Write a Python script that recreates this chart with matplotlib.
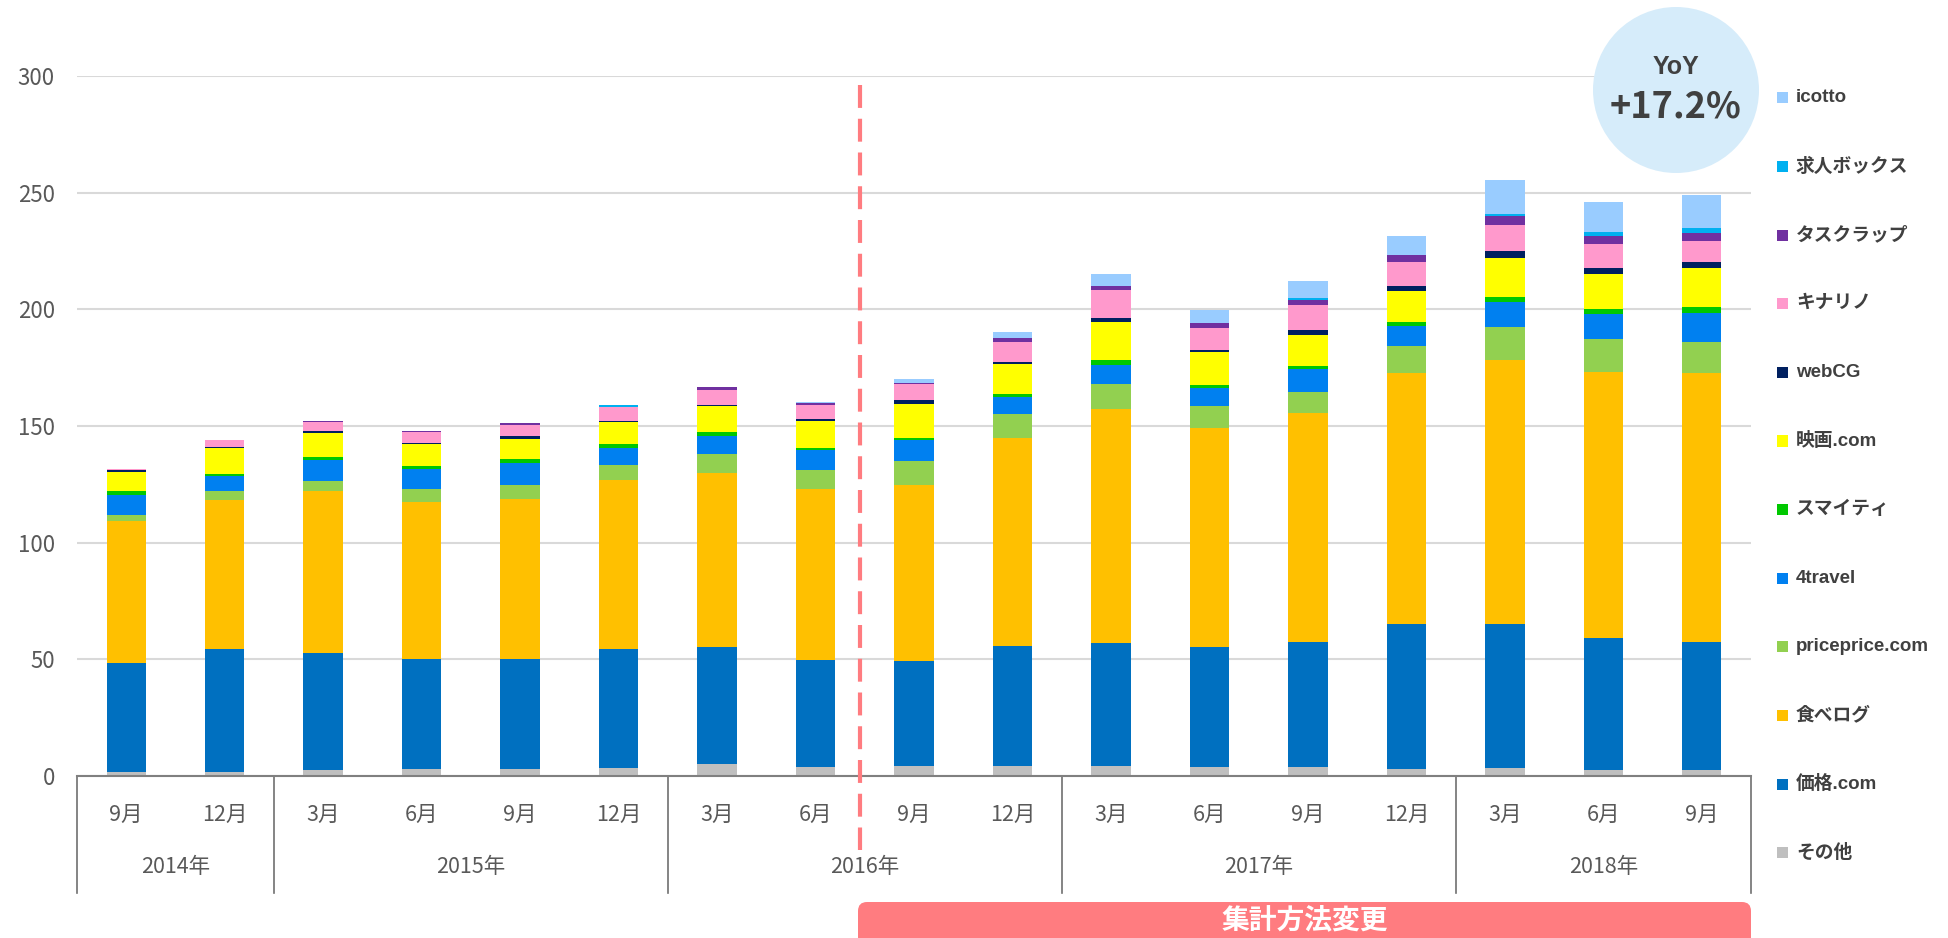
import matplotlib
matplotlib.use("Agg")
import matplotlib.pyplot as plt
from matplotlib.patches import FancyBboxPatch, Circle, Rectangle
import matplotlib.transforms as mtransforms
import numpy as np

# ---------------- data ----------------
months = ["9月", "12月", "3月", "6月", "9月", "12月", "3月", "6月", "9月", "12月",
          "3月", "6月", "9月", "12月", "3月", "6月", "9月"]
years = ["2014年", "2015年", "2016年", "2017年", "2018年"]
year_counts = [2, 4, 4, 4, 3]

series_names = ["その他", "価格.com", "食べログ", "priceprice.com", "4travel", "スマイティ",
                "映画.com", "webCG", "キナリノ", "タスクラップ", "求人ボックス", "icotto"]
series_colors = ["#BFBFBF", "#0070C0", "#FFC000", "#92D050", "#0080F0", "#00C800",
                 "#FFFF00", "#002060", "#FF99CC", "#7030A0", "#00B0F0", "#99CCFF"]

sonota     = [1.7, 1.7, 2.4, 3.0, 3.0, 3.6, 5.1, 3.9, 4.4, 4.4, 4.3, 3.7, 3.7, 3.1, 3.5, 2.6, 2.6]
kakaku     = [46.7, 52.7, 50.5, 47.3, 47.3, 51.0, 50.2, 46.0, 45.0, 51.5, 52.7, 51.5, 53.8, 61.9, 61.7, 56.7, 54.8]
tabelog    = [61.0, 63.7, 69.1, 67.3, 68.4, 72.4, 74.5, 73.0, 75.5, 89.0, 100.4, 93.8, 98.1, 107.7, 113.1, 113.9, 115.3]
priceprice = [2.6, 3.9, 4.4, 5.5, 6.0, 6.4, 8.0, 8.1, 10.0, 10.3, 10.4, 9.4, 8.9, 11.4, 14.1, 14.2, 13.2]
travel4    = [8.4, 6.6, 8.9, 8.5, 9.4, 7.2, 8.1, 8.5, 9.1, 7.1, 8.2, 7.7, 9.8, 8.7, 10.6, 10.5, 12.6]
sumaity    = [1.6, 1.0, 1.6, 1.4, 1.6, 1.7, 1.7, 1.0, 0.9, 1.5, 2.1, 1.6, 1.6, 1.8, 2.2, 2.1, 2.6]
eiga       = [8.1, 11.1, 10.2, 9.3, 8.9, 9.4, 10.8, 11.5, 14.5, 12.9, 16.4, 13.8, 13.1, 13.3, 16.9, 15.1, 16.6]
webcg      = [1.0, 0.4, 0.6, 0.6, 1.0, 0.6, 0.7, 1.0, 1.9, 0.8, 1.7, 1.0, 2.3, 2.2, 2.8, 2.7, 2.7]
kinarino   = [0.6, 2.8, 4.0, 4.4, 5.0, 5.8, 6.4, 6.1, 6.6, 8.3, 12.2, 9.5, 10.4, 10.0, 11.3, 10.1, 8.8]
taskrap    = [0.0, 0.1, 0.6, 0.6, 0.5, 0.2, 1.1, 0.7, 0.7, 1.7, 1.6, 2.2, 2.5, 3.2, 3.6, 3.7, 3.3]
kyujin     = [0.0, 0.0, 0.0, 0.0, 0.0, 0.6, 0.0, 0.0, 0.0, 0.0, 0.0, 0.0, 0.5, 0.0, 1.1, 1.5, 2.3]
icotto     = [0.0, 0.0, 0.0, 0.0, 0.0, 0.0, 0.0, 0.5, 1.5, 2.9, 5.0, 5.6, 7.4, 8.0, 14.7, 13.0, 14.1]

series_values = [sonota, kakaku, tabelog, priceprice, travel4, sumaity,
                 eiga, webcg, kinarino, taskrap, kyujin, icotto]

yticks = [0, 50, 100, 150, 200, 250, 300]
yoy_title = "YoY"
yoy_value = "+17.2%"
change_label = "集計方法変更"
change_index = 7.45   # boundary between 2016/6 and 2016/9

# ---------------- figure ----------------
W, H, DPI = 1949, 938, 100
fig = plt.figure(figsize=(W / DPI, H / DPI), dpi=DPI)
fig.patch.set_facecolor("white")

ax_l, ax_r, ax_b, ax_t = 77, 1751, 776, 76  # pixel box
ax = fig.add_axes([ax_l / W, (H - ax_b) / H, (ax_r - ax_l) / W, (ax_b - ax_t) / H])

tick_font = ["Noto Sans CJK JP", "DejaVu Sans"]
grey_text = "#595959"

x = np.arange(len(months))
bottom = np.zeros(len(months))
for name, vals, col in zip(series_names, series_values, series_colors):
    v = np.array(vals)
    ax.bar(x, v, bottom=bottom, width=0.40, color=col, edgecolor="none", zorder=3)
    bottom += v

ax.set_xlim(-0.5, len(months) - 0.5)
ax.set_ylim(0, 300)
ax.set_yticks(yticks)
ax.set_yticklabels([str(t) for t in yticks], family=tick_font, fontsize=16, color=grey_text)
ax.tick_params(axis="y", length=0, pad=16)
ax.set_xticks([])
ax.yaxis.grid(True, color="#D9D9D9", lw=1.5, zorder=0)
ax.set_axisbelow(True)
for s in ["left", "right", "top"]:
    ax.spines[s].set_visible(False)
ax.spines["bottom"].set_color("#808080")
ax.spines["bottom"].set_linewidth(1.5)
ax.spines["bottom"].set_zorder(4)

trans = mtransforms.blended_transform_factory(ax.transData, ax.transAxes)
ypx = lambda p: (ax_b - p) / (ax_b - ax_t)

# month labels
for i, m in enumerate(months):
    ax.text(i, ypx(815), m, transform=trans, ha="center", va="center",
            family=tick_font, fontsize=15.5, color=grey_text, clip_on=False)

# year labels and separators
bounds = [-0.5]
for c in year_counts:
    bounds.append(bounds[-1] + c)
for j, yl in enumerate(years):
    cx = (bounds[j] + bounds[j + 1]) / 2
    ax.text(cx, ypx(867), yl, transform=trans, ha="center", va="center",
            family=tick_font, fontsize=15.5, color=grey_text, clip_on=False)
for b in bounds:
    ax.plot([b, b], [0, ypx(893)], transform=trans, color="#707070", lw=1.2,
            clip_on=False, zorder=4)

# dashed red line
ax.plot([change_index, change_index], [ypx(85), ypx(850)], transform=trans,
        color="#FF7C80", lw=3, ls=(0, (5.5, 2.6)), clip_on=False, zorder=5)

# red box bottom
inch = fig.dpi_scale_trans
bx0, bx1, by_top = 858, 1751, 902
box = FancyBboxPatch((bx0 / DPI, -0.3), (bx1 - bx0) / DPI, (H - by_top) / DPI + 0.3,
                     boxstyle="round,pad=0,rounding_size=0.09", transform=inch,
                     facecolor="#FF7C80", edgecolor="none", clip_on=False, zorder=5)
fig.patches.append(box)
fig.text((bx0 + bx1) / 2 / W, (H - 920) / H, change_label, ha="center", va="center",
         family=["Noto Sans CJK JP"], fontsize=20, fontweight="bold", color="white", zorder=6)

# YoY circle
circ = Circle((1676 / DPI, (H - 90) / DPI), 0.83, transform=inch,
              facecolor="#D6ECFA", edgecolor="none", zorder=6)
fig.patches.append(circ)
fig.text(1676 / W, (H - 67) / H, yoy_title, ha="center", va="center",
         family=["Liberation Sans"], fontsize=18, fontweight="bold", color="#404040", zorder=7)
fig.text(1676 / W, (H - 107) / H, yoy_value, ha="center", va="center",
         family=["Noto Sans CJK JP"], fontsize=26, fontweight="bold", color="#404040", zorder=7)

# legend (top to bottom: reverse of stacking)
leg_y0, leg_step = 98, 68.6
for k, idx in enumerate(range(len(series_names) - 1, -1, -1)):
    yy = leg_y0 + k * leg_step
    sq = Rectangle((1777 / DPI, (H - yy - 5.5) / DPI), 11 / DPI, 11 / DPI, transform=inch,
                   facecolor=series_colors[idx], edgecolor="none")
    fig.patches.append(sq)
    fig.text(1796 / W, (H - yy) / H, series_names[idx], ha="left", va="center",
             family=["Liberation Sans", "Noto Sans CJK JP"], fontsize=13.5,
             fontweight="bold", color="#404040")

fig.savefig("out.png", dpi=DPI)
